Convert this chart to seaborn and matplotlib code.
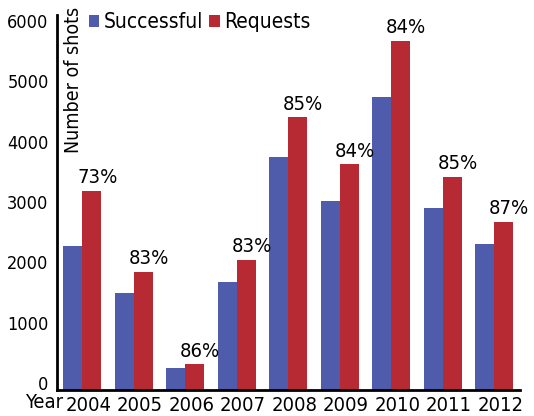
import numpy as np
import pandas as pd
import matplotlib
matplotlib.use("Agg")
import matplotlib.pyplot as plt
from matplotlib import font_manager
from matplotlib.transforms import ScaledTranslation
import seaborn as sns

years = ["2004", "2005", "2006", "2007", "2008", "2009", "2010", "2011", "2012"]
successful = [2390, 1610, 370, 1795, 3855, 3135, 4850, 3010, 2425]
requests = [3300, 1960, 430, 2155, 4520, 3745, 5785, 3535, 2785]
rates = ["73%", "83%", "86%", "83%", "85%", "84%", "84%", "85%", "87%"]

df = pd.DataFrame({
    "year": years * 2,
    "shots": successful + requests,
    "series": ["Successful"] * len(years) + ["Requests"] * len(years),
})

sns.set_style("white")

# look for a condensed face, the original uses a narrow grotesque
stretch = "normal"
family = "Liberation Sans"
for fam, st, key in [("Liberation Sans Narrow", "normal", "Narrow"),
                     ("DejaVu Sans", "condensed", "Condensed")]:
    try:
        path = font_manager.findfont(font_manager.FontProperties(family=fam, stretch=st),
                                     fallback_to_default=False)
    except ValueError:
        continue
    if key in path:
        family, stretch = fam, st
        break
plt.rcParams["font.family"] = [family, "DejaVu Sans"]
plt.rcParams["font.stretch"] = stretch
ink = "#000000"
plt.rcParams["text.color"] = ink

fig = plt.figure(figsize=(5.34, 4.16), dpi=100)
ax = fig.add_axes([57 / 534, 1 - 390 / 416, 463 / 534, 375 / 416])

sns.barplot(data=df, x="year", y="shots", hue="series", order=years,
            palette=["#4f5bab", "#b82a33"], width=0.74, saturation=1,
            edgecolor="none", ax=ax)

for i, (r, lab) in enumerate(zip(requests, rates)):
    ax.annotate(lab, (i + 0.185, r), xytext=(4, 2.5), textcoords="offset points",
                ha="center", va="bottom", fontsize=14.5, color=ink)

ax.set_xlim(-0.49, 8.5)
ax.set_ylim(0, 6215)
ax.set_yticks([0, 1000, 2000, 3000, 4000, 5000, 6000])
ax.tick_params(axis="both", length=0, colors=ink)
ax.tick_params(axis="y", pad=6, labelsize=13)
ax.tick_params(axis="x", pad=4, labelsize=14.5)
for t in ax.get_yticklabels():
    t.set_va("baseline")
# year labels sit a little right of the group centre in the original
shift = ScaledTranslation(6 / 100, 0, fig.dpi_scale_trans)
for t in ax.get_xticklabels():
    t.set_transform(t.get_transform() + shift)

for side in ["top", "right"]:
    ax.spines[side].set_visible(False)
for side in ["left", "bottom"]:
    ax.spines[side].set_color(ink)
    ax.spines[side].set_linewidth(2)

ax.set_xlabel("")
ax.set_ylabel("")
ax.text(0.035, 1.021, "Number of shots", transform=ax.transAxes, rotation=90,
        ha="center", va="top", fontsize=14, color=ink)
fig.text(25 / 534, 1 - 403 / 416, "Year", ha="left", va="center",
         fontsize=14.5, color=ink)

handles, labels = ax.get_legend_handles_labels()
leg = ax.legend(handles, labels, loc="upper left", bbox_to_anchor=(89 / 534, 1 - 12 / 416),
                bbox_transform=fig.transFigure, frameon=False, ncol=2, fontsize=15,
                handlelength=0.5, handleheight=0.5, handletextpad=0.2, columnspacing=0.3,
                borderaxespad=0, borderpad=0)
for t in leg.get_texts():
    t.set_color(ink)

fig.savefig("out.png", dpi=100)
